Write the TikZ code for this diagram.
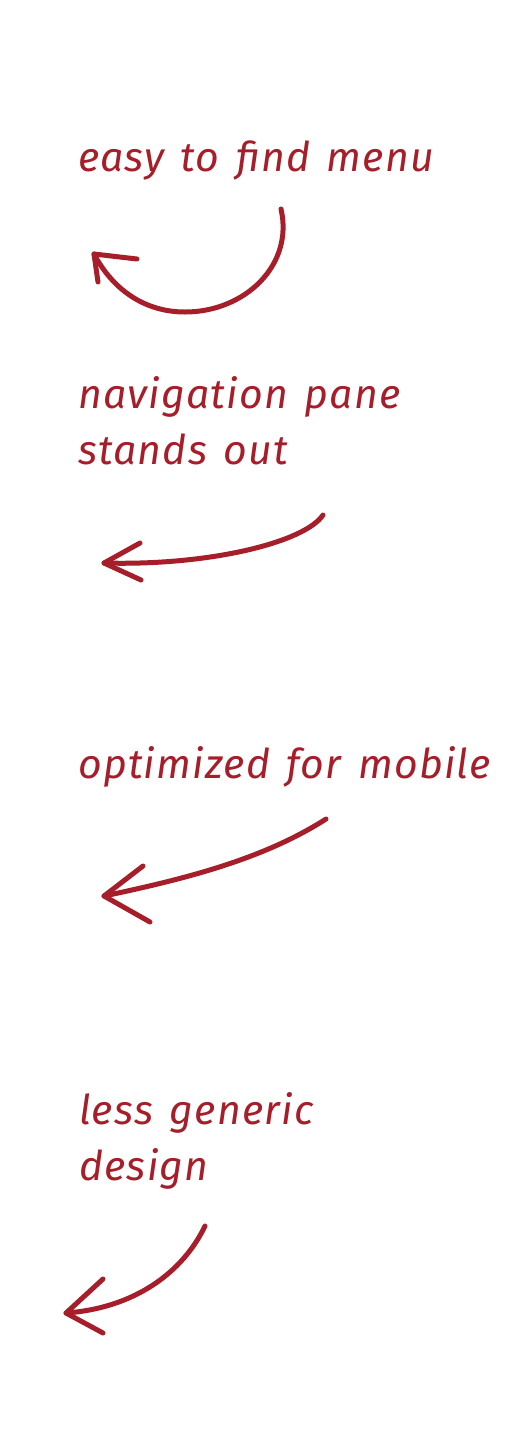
\documentclass[tikz,border=0pt]{standalone}
\usepackage{fontspec}
\setmainfont{Fira Sans}
\newfontfamily\handfont{Fira Sans}[LetterSpace=3, WordSpace=1.4]
\definecolor{ink}{HTML}{A61E29}
\tikzset{
  note/.style={anchor=base west, inner sep=0pt, text=ink, font=\handfont\fontsize{41}{55}\selectfont\itshape},
  stroke/.style={draw=ink, line width=5pt, line cap=round, line join=round}
}
\begin{document}
\begin{tikzpicture}[x=1pt,y=-1pt]
\fill[white] (0,0) rectangle (518,1444);
\useasboundingbox (0,0) rectangle (518,1444);
% texts
\node[note] (t1) at (78,171) {easy to find menu};
\node[note] (t2a) at (78,408) {navigation pane};
\node[note] (t2b) at (78,464) {stands out};
\node[note] (t3) at (78,778) {optimized for mobile};
\node[note] (t4a) at (79,1124) {less generic};
\node[note] (t4b) at (79,1180) {design};
% arrow 1
\coordinate (a1s) at (281,209);
\coordinate (a1t) at (94,254);
\coordinate (a1u) at (137,259);
\coordinate (a1l) at (98,282);
\draw[stroke] (a1s) .. controls (294,265) and (245,312) .. (185,312) .. controls (145,312) and (113,290) .. (a1t);
\draw[stroke] (a1u) -- (a1t) -- (a1l);
% arrow 2
\coordinate (a2s) at (323,515);
\coordinate (a2t) at (104,563);
\coordinate (a2u) at (140,543);
\coordinate (a2l) at (141,580);
\draw[stroke] (a2s) .. controls (305,542) and (210,566) .. (a2t);
\draw[stroke] (a2u) -- (a2t) -- (a2l);
% arrow 3
\coordinate (a3s) at (326,819);
\coordinate (a3t) at (104,896);
\coordinate (a3u) at (143,866);
\coordinate (a3l) at (150,922);
\draw[stroke] (a3s) .. controls (265,858) and (190,878) .. (a3t);
\draw[stroke] (a3u) -- (a3t) -- (a3l);
% arrow 4
\coordinate (a4s) at (205,1226);
\coordinate (a4t) at (66,1313);
\coordinate (a4u) at (103,1279);
\coordinate (a4l) at (103,1333);
\draw[stroke] (a4s) .. controls (183,1272) and (135,1308) .. (a4t);
\draw[stroke] (a4u) -- (a4t) -- (a4l);
\end{tikzpicture}
\end{document}
